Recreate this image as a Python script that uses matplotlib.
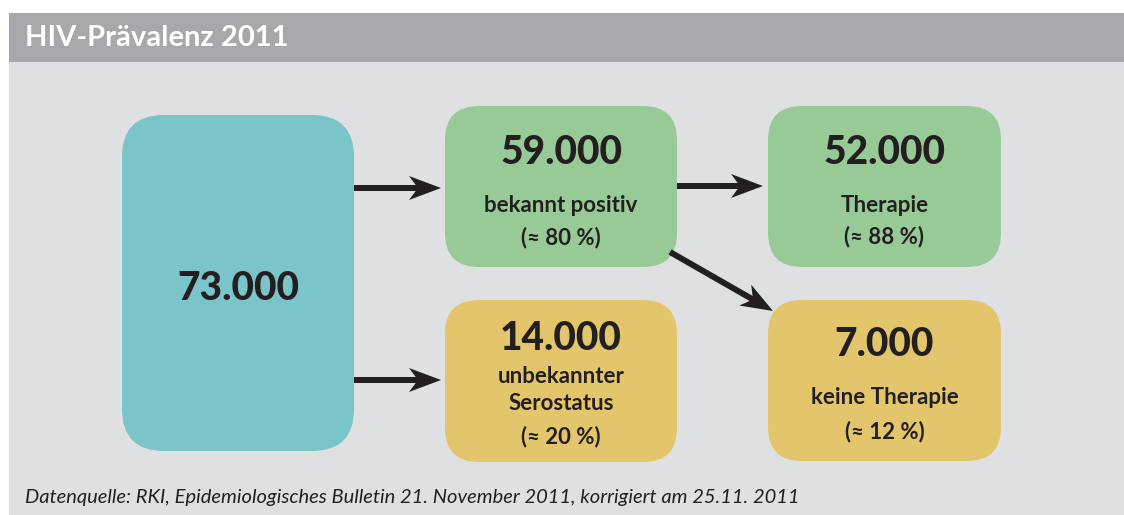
import matplotlib
matplotlib.use("Agg")
import matplotlib.pyplot as plt
from matplotlib.patches import FancyBboxPatch, Rectangle, Polygon
import numpy as np

# ---- data ----
values = [73000, 59000, 14000, 52000, 7000]
labels = ["", "bekannt positiv", "unbekannter\nSerostatus", "Therapie", "keine Therapie"]
shares = [None, 80, 20, 88, 12]
title = "HIV-Prävalenz 2011"
source = "Datenquelle: RKI, Epidemiologisches Bulletin 21. November 2011, korrigiert am 25.11. 2011"

# ---- layout (pixel coordinates) ----
W, H = 1124, 515
boxes = [  # x0, y0, x1, y1
    (122, 115, 354, 451),
    (445, 106, 677, 267),
    (445, 300, 677, 462),
    (768, 106, 1001, 267),
    (768, 300, 1001, 461),
]
colors = ["#7AC5C9", "#98CA98", "#E3C56B", "#98CA98", "#E3C56B"]
num_y = [288, 152, 338, 152, 345]
lab_y = [None, 205, 390, 205, 398]
pct_y = [None, 238, 437, 237, 432]
arrows = [((354, 188), (441, 188)), ((354, 380), (441, 380)),
          ((677, 186), (763, 186)), ((670, 252), (773, 311))]

TXT = "#231F20"
BG = "#DFE0E2"
HEAD = "#A7A8AC"
FONT = ["Lato", "DejaVu Sans"]

fig = plt.figure(figsize=(W / 100, H / 100), dpi=100)
fig.patch.set_facecolor("white")
ax = fig.add_axes([0, 0, 1, 1])
ax.set_xlim(0, W)
ax.set_ylim(H, 0)
ax.axis("off")

# panel + header
ax.add_patch(Rectangle((9, 13), W - 9, H - 13, facecolor=BG, edgecolor="none"))
ax.add_patch(Rectangle((9, 13), W - 9, 49, facecolor=HEAD, edgecolor="none"))
ax.text(25, 38, title, color="white", fontsize=21, fontweight="bold",
        family=FONT, va="center", ha="left")


def fmt(v):
    return f"{v:,}".replace(",", ".")


for i, (x0, y0, x1, y1) in enumerate(boxes):
    r = 42 if i == 0 else 34
    ax.add_patch(FancyBboxPatch((x0, y0), x1 - x0, y1 - y0,
                                boxstyle=f"round,pad=0,rounding_size={r}",
                                facecolor=colors[i], edgecolor="none"))
    cx = (x0 + x1) / 2
    ax.text(cx, num_y[i], fmt(values[i]), color=TXT, fontsize=28,
            fontweight="black", family=FONT, ha="center", va="center")
    if labels[i]:
        ax.text(cx, lab_y[i], labels[i], color=TXT, fontsize=16,
                fontweight="bold", family=FONT, ha="center", va="center",
                linespacing=1.4)
    if shares[i] is not None:
        ax.text(cx, pct_y[i], f"(≈ {shares[i]} %)", color=TXT,
                fontsize=16, fontweight="bold", family=FONT,
                ha="center", va="center")


def stealth_arrow(p0, p1, lw=6, hl=32, hw=24):
    p0 = np.array(p0, float)
    p1 = np.array(p1, float)
    d = p1 - p0
    d /= np.hypot(*d)
    n = np.array([-d[1], d[0]])
    shaft_end = p1 - d * hl * 0.6
    s = [p0 + n * lw / 2, shaft_end + n * lw / 2,
         shaft_end - n * lw / 2, p0 - n * lw / 2]
    ax.add_patch(Polygon(s, closed=True, facecolor=TXT, edgecolor="none"))
    back = p1 - d * hl
    notch = p1 - d * hl * 0.72
    head = [p1, back + n * hw / 2, notch, back - n * hw / 2]
    ax.add_patch(Polygon(head, closed=True, facecolor=TXT, edgecolor="none"))


for a, b in arrows:
    stealth_arrow(a, b)

ax.text(25, 497, source, color=TXT, fontsize=14.5, style="italic",
        family=FONT, ha="left", va="center")

fig.savefig("out.png", dpi=100, facecolor=fig.get_facecolor())
